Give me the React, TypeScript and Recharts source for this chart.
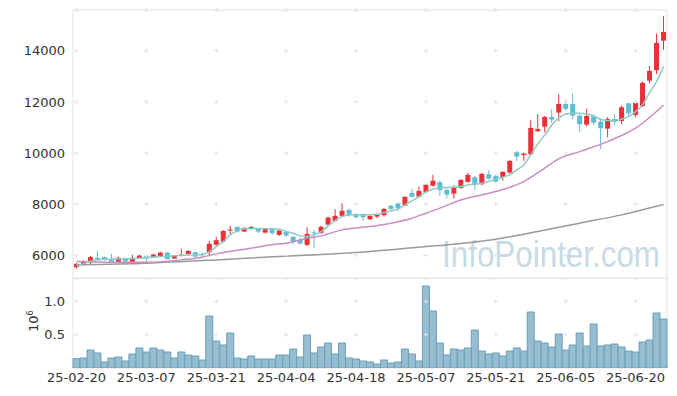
import React from 'react'
import {
  ComposedChart,
  Bar,
  Line,
  XAxis,
  YAxis,
  ReferenceArea,
  ReferenceDot,
} from 'recharts'

const dates = [
  '25-02-20', '25-02-21', '25-02-24', '25-02-25', '25-02-26', '25-02-27', '25-02-28', '25-03-04', '25-03-05', '25-03-06',
  '25-03-07', '25-03-10', '25-03-11', '25-03-12', '25-03-13', '25-03-14', '25-03-17', '25-03-18', '25-03-19', '25-03-20',
  '25-03-21', '25-03-24', '25-03-25', '25-03-26', '25-03-27', '25-03-28', '25-03-31', '25-04-01', '25-04-02', '25-04-03',
  '25-04-04', '25-04-07', '25-04-08', '25-04-09', '25-04-10', '25-04-11', '25-04-14', '25-04-15', '25-04-16', '25-04-17',
  '25-04-18', '25-04-21', '25-04-22', '25-04-23', '25-04-24', '25-04-25', '25-04-28', '25-04-29', '25-04-30', '25-05-02',
  '25-05-07', '25-05-08', '25-05-09', '25-05-12', '25-05-13', '25-05-14', '25-05-15', '25-05-16', '25-05-19', '25-05-20',
  '25-05-21', '25-05-22', '25-05-23', '25-05-26', '25-05-27', '25-05-28', '25-05-29', '25-05-30', '25-06-02', '25-06-04',
  '25-06-05', '25-06-09', '25-06-10', '25-06-11', '25-06-12', '25-06-13', '25-06-16', '25-06-17', '25-06-18', '25-06-19',
  '25-06-20', '25-06-23', '25-06-24', '25-06-25', '25-06-26',
]

const opens = [
  5543, 5633, 5738, 5906, 5934, 5855, 5750, 5895, 5750, 5895,
  5970, 5934, 5957, 6113, 5880, 6005, 6062, 6128, 6062, 6128,
  6414, 6543, 6973, 7117, 6934, 7039, 7039, 6895, 7039, 6805,
  6922, 6727, 6610, 6414, 6900, 6883, 7207, 7351, 7547, 7781,
  7625, 7574, 7418, 7519, 7574, 7937, 8027, 7949, 8445, 8301,
  8484, 8725, 8863, 8562, 8418, 8640, 8875, 9058, 8785, 9175,
  9109, 9058, 9238, 10035, 9918, 9957, 10855, 11030, 11414, 11582,
  11921, 11921, 11465, 11113, 11441, 11230, 10957, 11336, 11258, 11949,
  11492, 11843, 12832, 13238, 14395,
]
const highs = [
  5711, 5816, 5984, 6180, 5957, 6062, 5957, 5918, 6023, 6035,
  6023, 6074, 6140, 6125, 5996, 6270, 6207, 6152, 6128, 6570,
  6727, 6988, 7156, 7117, 7100, 7143, 7065, 7070, 7060, 7013,
  6961, 6754, 6700, 7105, 7000, 7168, 7519, 7808, 8043, 7832,
  7652, 7637, 7574, 7625, 7859, 7976, 8066, 8316, 8613, 8691,
  8785, 9145, 8926, 8601, 8746, 8980, 9238, 9109, 9226, 9332,
  9160, 9293, 9734, 10086, 10020, 11285, 11519, 11449, 11726, 12300,
  12078, 12339, 11519, 11726, 11519, 11297, 11402, 11519, 11855, 11949,
  12078, 12800, 13406, 14656, 15359,
]
const lows = [
  5488, 5594, 5633, 5800, 5800, 5723, 5699, 5723, 5723, 5867,
  5723, 5906, 5934, 5845, 5867, 5965, 6035, 5918, 5945, 5973,
  6387, 6504, 6805, 6895, 6910, 7013, 6871, 6870, 6805, 6766,
  6727, 6441, 6441, 6375, 6290, 6844, 7168, 7312, 7519, 7519,
  7441, 7351, 7379, 7457, 7519, 7754, 7730, 7926, 8270, 8262,
  8457, 8691, 8328, 8223, 8223, 8601, 8836, 8562, 8746, 8965,
  8848, 8926, 9199, 9695, 9695, 9918, 10816, 10816, 11168, 11245,
  11648, 11324, 10840, 11036, 11101, 10164, 10605, 11101, 11128, 11440,
  11402, 11800, 12742, 13082, 14031,
]
const closes = [
  5672, 5762, 5934, 5840, 5828, 5762, 5906, 5762, 5906, 5996,
  5880, 6035, 6113, 5855, 5984, 6030, 6180, 5957, 6012, 6453,
  6597, 6961, 7013, 6934, 7078, 7117, 6934, 7052, 6871, 6973,
  6777, 6543, 6465, 6844, 6860, 7117, 7480, 7547, 7743, 7586,
  7495, 7495, 7547, 7586, 7820, 7820, 7848, 8289, 8289, 8523,
  8758, 8920, 8551, 8379, 8668, 8953, 9148, 8785, 9187, 9004,
  8887, 9265, 9695, 9863, 9980, 10984, 10945, 11414, 11309, 11921,
  11726, 11465, 11128, 11453, 11191, 10972, 11336, 11219, 11792, 11558,
  11961, 12742, 13211, 14304, 14734,
]
const volume = [
  140000, 150000, 270000, 225000, 90000, 150000, 165000, 105000, 210000, 300000,
  240000, 300000, 270000, 240000, 150000, 240000, 195000, 180000, 120000, 780000,
  405000, 345000, 525000, 150000, 135000, 180000, 135000, 135000, 135000, 195000,
  195000, 285000, 165000, 495000, 225000, 315000, 375000, 210000, 375000, 150000,
  135000, 105000, 90000, 60000, 120000, 75000, 90000, 285000, 210000, 105000,
  1230000, 855000, 375000, 195000, 285000, 270000, 300000, 570000, 255000, 210000,
  225000, 180000, 255000, 300000, 255000, 840000, 405000, 375000, 315000, 510000,
  270000, 345000, 525000, 330000, 660000, 330000, 345000, 360000, 315000, 255000,
  240000, 390000, 420000, 825000, 735000,
]

// moving averages at [index, value]
const ma5Points = [
  [0, 5590], [1, 5680], [2, 5780], [3, 5830], [4, 5850], [6, 5860], [8, 5880], [10, 5920], [12, 5960], [14, 5990],
  [16, 6020], [18, 6030], [19, 6152], [20, 6348], [21, 6543], [22, 6805], [23, 6961], [24, 7040], [26, 7050], [28, 7040],
  [29, 7020], [30, 6934], [31, 6871], [32, 6766], [33, 6740], [34, 6805], [35, 6934], [36, 7156], [37, 7363], [38, 7519],
  [39, 7586], [41, 7590], [43, 7613], [44, 7676], [45, 7742], [46, 7820], [47, 7977], [48, 8133], [49, 8301], [50, 8473],
  [51, 8600], [52, 8635], [54, 8665], [55, 8691], [56, 8758], [57, 8785], [58, 8824], [59, 8887], [60, 8980], [61, 9058],
  [62, 9148], [63, 9343], [64, 9539], [65, 9930], [66, 10350], [67, 10700], [68, 11101], [69, 11362], [70, 11531], [71, 11558],
  [72, 11558], [73, 11531], [74, 11453], [75, 11323], [76, 11270], [77, 11270], [78, 11323], [79, 11425], [80, 11621], [81, 11882],
  [82, 12363], [83, 12793], [84, 13379],
]
const ma20Points = [
  [0, 5762], [5, 5738], [10, 5738], [15, 5828], [18, 5934], [20, 6062], [25, 6285], [28, 6420], [30, 6480], [33, 6675],
  [35, 6766], [38, 7000], [42, 7129], [45, 7262], [48, 7457], [50, 7652], [52, 7848], [55, 8170], [60, 8496], [64, 8887],
  [67, 9410], [69, 9773], [72, 10058], [76, 10450], [80, 10972], [84, 11870],
]
const ma60Points = [
  [0, 5640], [10, 5699], [20, 5828], [27, 5934], [40, 6113], [50, 6348], [54, 6441], [60, 6637], [66, 6934], [72, 7262],
  [78, 7586], [84, 7990],
]

const priceTicks = [6000, 8000, 10000, 12000, 14000]
const volumeTicks = [500000, 1000000]
const priceDomain = [5120, 15590]
const volumeDomain = [0, 1350000]

const UP = '#ec2f38'
const DOWN = '#5fbcd7'
const GRID = '#e2e2e2'
const BORDER = '#e2e2e2'
const FONT = '"DejaVu Sans", sans-serif'

function pick(points: number[][], i: number) {
  const hit = points.find((p) => p[0] === i)
  return hit ? hit[1] : null
}

const rows = dates.map((date, i) => ({
  date,
  open: opens[i],
  high: highs[i],
  low: lows[i],
  close: closes[i],
  volume: volume[i],
  ma5: pick(ma5Points, i),
  ma20: pick(ma20Points, i),
  ma60: pick(ma60Points, i),
}))

const xTicks = dates.filter((_, i) => i % 10 === 0)

// eslint-disable-next-line @typescript-eslint/no-explicit-any
function Candle(props: any) {
  const { x, y, width, height, payload } = props
  const { open, close, high, low } = payload
  const color = close >= open ? UP : DOWN
  const cx = x + width / 2
  const ppu = height / (high - low || 1)
  const top = y + (high - Math.max(open, close)) * ppu
  const bot = y + (high - Math.min(open, close)) * ppu
  return (
    <g>
      <line x1={cx} x2={cx} y1={y} y2={y + height} stroke={color} strokeWidth={1} />
      <rect x={cx - 2.5} y={top} width={5} height={Math.max(1, bot - top)} fill={color} />
    </g>
  )
}

// eslint-disable-next-line @typescript-eslint/no-explicit-any
function Cross(props: any) {
  const { cx, cy } = props
  if (cx == null || cy == null) return null
  return <path d={`M${cx - 2},${cy}h4M${cx},${cy - 2}v4`} stroke={GRID} strokeWidth={1} fill="none" />
}

function VolumeUnit() {
  return (
    <text transform="translate(38, 54) rotate(-90)" fontSize={13} fill="#333" fontFamily={FONT}>
      10
      <tspan dy={-5} fontSize={8}>6</tspan>
    </text>
  )
}

export default function App() {
  return (
    <div style={{ position: 'absolute', left: 0, top: 0, width: 677, height: 396, background: '#fff', fontFamily: FONT }}>
      <div style={{ position: 'absolute', left: 0, top: 0 }}>
        <ComposedChart width={677} height={279} data={rows} margin={{ top: 10, right: 10, bottom: 1, left: 0 }} barCategoryGap={0}>
          <XAxis dataKey="date" hide interval={9} />
          <YAxis
            width={73}
            domain={priceDomain}
            ticks={priceTicks}
            allowDataOverflow
            axisLine={false}
            tickLine={false}
            tick={{ fontSize: 13, fill: '#333' }}
          />
          <ReferenceArea y1={priceDomain[0]} y2={priceDomain[1]} fill="none" stroke={BORDER} ifOverflow="visible" />
          {xTicks.map((d) =>
            [...priceTicks, priceDomain[1]].map((p) => (
              <ReferenceDot key={`${d}-${p}`} x={d} y={p} shape={<Cross />} ifOverflow="visible" />
            ))
          )}
          <text
            x={442}
            y={267}
            fontSize={36}
            fill="#c7dae5"
            textLength={218}
            lengthAdjust="spacingAndGlyphs"
            fontFamily="Liberation Sans"
          >
            InfoPointer.com
          </text>
          <Bar dataKey={(d: { low: number; high: number }) => [d.low, d.high]} shape={<Candle />} isAnimationActive={false} />
          <Line type="monotone" dataKey="ma60" stroke="#9a9a9a" strokeWidth={1.5} dot={false} connectNulls isAnimationActive={false} />
          <Line type="monotone" dataKey="ma20" stroke="#c98cc5" strokeWidth={1.5} dot={false} connectNulls isAnimationActive={false} />
          <Line type="monotone" dataKey="ma5" stroke="#8fcac2" strokeWidth={1.5} dot={false} connectNulls isAnimationActive={false} />
        </ComposedChart>
      </div>
      <div style={{ position: 'absolute', left: 0, top: 278 }}>
        <ComposedChart width={677} height={118} data={rows} margin={{ top: 0, right: 10, bottom: 0, left: 0 }} barCategoryGap={0}>
          <XAxis
            dataKey="date"
            interval={9}
            height={28}
            axisLine={false}
            tickLine={false}
            tickSize={0}
            tickMargin={4.5}
            tick={{ fontSize: 13, fill: '#333' }}
          />
          <YAxis
            width={73}
            domain={volumeDomain}
            ticks={volumeTicks}
            allowDataOverflow
            axisLine={false}
            tickLine={false}
            tick={{ fontSize: 13, fill: '#333' }}
            tickFormatter={(v: number) => (v / 1000000).toFixed(1)}
            label={<VolumeUnit />}
          />
          <ReferenceArea y1={volumeDomain[0]} y2={volumeDomain[1]} fill="none" stroke={BORDER} ifOverflow="visible" />
          {xTicks.map((d) =>
            [...volumeTicks, volumeDomain[1]].map((p) => (
              <ReferenceDot key={`${d}-${p}`} x={d} y={p} shape={<Cross />} ifOverflow="visible" />
            ))
          )}
          <Bar dataKey="volume" fill="#97bdd0" stroke="#6b9fb8" strokeWidth={1} isAnimationActive={false} />
        </ComposedChart>
      </div>
    </div>
  )
}
